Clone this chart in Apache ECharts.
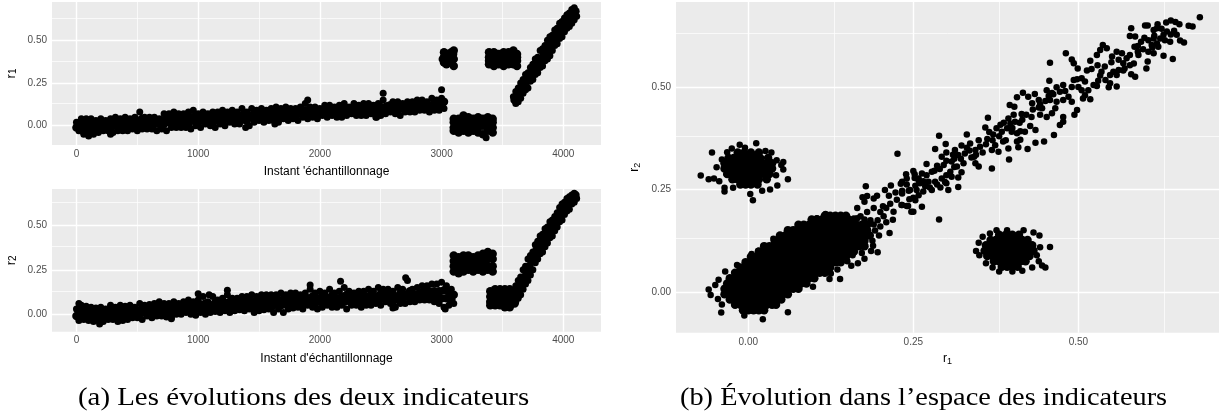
<!DOCTYPE html>
<html><head><meta charset="utf-8">
<style>html,body{margin:0;padding:0;background:#fff}#c{width:1219px;height:419px}</style>
<script src="https://cdn.jsdelivr.net/npm/echarts@6/dist/echarts.min.js"></script>
</head><body><div id="c"></div>
<script>
const xTicks=[0,1000,2000,3000,4000];
const xMinor=[500,1500,2500,3500];
const rTicks=[0,0.25,0.5];
const rMinor=[0.125,0.375,0.625];
const bandStep=40;
const r1Upper=[.02,.04,.04,.04,.03,.04,.03,.04,.05,.04,.05,.04,.05,.08,.05,.05,.05,.04,.07,.07,.08,.07,.07,.08,.09,.07,.08,.07,.08,.08,.09,.08,.09,.08,.10,.08,.10,.09,.10,.09,.10,.11,.10,.11,.10,.10,.11,.13,.11,.11,.10,.12,.12,.11,.12,.13,.11,.13,.12,.13,.13,.12,.13,.15,.12,.14,.14,.13,.14,.14,.15,.15,.14,.16,.15,.16];
const r1MidA=[.01,.02,.02,.02,.01,.02,.02,.02,.03,.03,.03,.03,.03,.04,.03,.03,.03,.03,.04,.04,.05,.05,.05,.05,.06,.05,.06,.05,.05,.06,.06,.06,.07,.06,.07,.06,.07,.07,.07,.07,.08,.08,.08,.08,.08,.08,.09,.09,.09,.09,.09,.10,.10,.09,.10,.10,.10,.11,.10,.11,.11,.10,.11,.11,.12,.12,.11,.12,.12,.12,.13,.13,.12,.13,.13,.14];
const r1MidB=[-.01,-.02,-.01,-.02,-.01,-.01,0,-.01,0,0,0,.01,0,.01,.01,0,.01,.01,.01,.02,.02,.02,.02,.01,.03,.02,.03,.03,.02,.03,.03,.04,.03,.04,.05,.03,.05,.05,.04,.05,.06,.05,.06,.06,.06,.06,.07,.06,.07,.07,.08,.07,.08,.08,.08,.08,.09,.08,.09,.08,.09,.08,.09,.09,.10,.09,.09,.10,.10,.10,.11,.11,.10,.11,.11,.12];
const r1Lower=[-.03,-.04,-.04,-.05,-.04,-.03,-.03,-.04,-.03,-.03,-.03,-.02,-.03,-.02,-.02,-.02,-.03,-.02,-.03,-.01,-.01,-.01,-.01,-.02,0,-.01,.01,0,-.01,.01,0,.02,.01,.01,.03,0,.02,.03,.02,.03,.03,.02,.04,.03,.04,.03,.05,.04,.05,.04,.06,.05,.06,.05,.05,.06,.07,.06,.06,.06,.07,.05,.06,.07,.08,.07,.06,.08,.08,.08,.09,.09,.08,.09,.09,.10];
const r1Outliers=[[60,-.05],[100,-.06],[280,-.05],[1390,-.01],[1630,.01],[2466,.05],[2520,.19],[3000,.21],[3366,-.07],[1900,.15]];
const r1BlockA=[[3020,.37],[3040,.36],[3060,.37],[3080,.37],[3100,.35],[3020,.40],[3040,.41],[3060,.39],[3080,.40],[3100,.39],[3020,.43],[3040,.42],[3060,.41],[3080,.43],[3100,.44],[3010,.39],[3095,.42]];
const r1BlockLowX=[3100,3140,3180,3220,3260,3300,3340,3380,3420];
const r1BlockLow=[[.04,.04,.06,.05,.04,.05,.04,.05,.04],[.02,.01,.02,.02,.01,.02,.02,.01,.02],[-.01,-.01,0,-.01,-.01,-.01,0,-.01,-.01],[-.03,-.04,-.03,-.04,-.03,-.04,-.05,-.03,-.04]];
const r1BlockHighX=[3390,3430,3470,3510,3550,3590,3620];
const r1BlockHigh=[[.43,.43,.42,.43,.43,.44,.42],[.40,.40,.41,.39,.40,.41,.40],[.38,.37,.38,.37,.38,.37,.38],[.36,.35,.36,.35,.36,.36,.35]];
const rampStep=20;
const r1RampUp=[.17,.20,.22,.25,.27,.30,.31,.34,.36,.39,.40,.44,.45,.47,.50,.52,.53,.56,.57,.60,.61,.63,.65,.66,.68,.69];
const r1RampMid=[.15,.17,.19,.22,.24,.26,.29,.30,.33,.35,.37,.39,.42,.43,.46,.48,.50,.52,.54,.56,.58,.60,.61,.63,.65,.67];
const r1RampLow=[.13,.14,.16,.19,.21,.22,.26,.27,.30,.31,.34,.35,.38,.39,.41,.44,.47,.48,.51,.52,.55,.57,.58,.60,.62,.64];

const r2Upper=[.03,.05,.045,.04,.035,.04,.03,.05,.04,.05,.045,.05,.04,.06,.05,.055,.06,.07,.06,.06,.07,.06,.07,.08,.07,.08,.10,.07,.10,.08,.09,.11,.09,.09,.10,.10,.11,.10,.11,.11,.11,.11,.12,.11,.12,.12,.11,.12,.14,.12,.13,.12,.14,.12,.13,.15,.13,.12,.13,.13,.14,.13,.15,.14,.14,.13,.15,.14,.19,.14,.15,.16,.16,.17,.17,.18,.16,.14];
const r2MidA=[.015,.025,.02,.02,.015,.02,.015,.03,.02,.03,.02,.03,.02,.035,.03,.03,.035,.04,.035,.035,.045,.04,.05,.05,.045,.055,.06,.05,.065,.055,.065,.07,.065,.065,.07,.075,.07,.07,.08,.08,.075,.08,.085,.08,.09,.09,.08,.09,.10,.09,.10,.09,.105,.09,.10,.11,.10,.095,.10,.10,.11,.10,.115,.11,.11,.10,.115,.11,.13,.11,.12,.13,.13,.13,.13,.135,.125,.11];
const r2MidB=[-.01,-.005,-.01,-.015,-.01,-.015,-.01,-.005,-.01,-.005,-.005,.005,0,.005,.01,.005,.01,.015,.01,.005,.02,.02,.03,.025,.02,.035,.03,.03,.04,.035,.04,.04,.045,.045,.045,.055,.04,.045,.05,.055,.04,.055,.05,.055,.06,.065,.055,.07,.07,.06,.07,.07,.07,.065,.075,.07,.075,.07,.07,.075,.08,.08,.08,.09,.085,.07,.085,.085,.10,.09,.10,.105,.105,.10,.095,.09,.09,.085];
const r2Lower=[-.035,-.03,-.035,-.04,-.035,-.04,-.03,-.03,-.04,-.035,-.03,-.02,-.02,-.03,-.01,-.02,-.01,-.01,-.015,-.02,0,.0,.01,0,-.005,.01,0,.01,.015,.01,.02,.01,.02,.025,.02,.03,.01,.02,.025,.03,.01,.03,.01,.03,.035,.04,.03,.05,.04,.03,.04,.05,.04,.04,.05,.03,.05,.05,.04,.05,.05,.06,.05,.07,.06,.04,.06,.06,.07,.07,.08,.08,.08,.07,.06,.04,.05,.06];
const r2Outliers=[[190,-.055],[20,.06],[780,-.025],[1000,.115],[1090,.11],[1240,.135],[1920,.165],[2170,.185],[2600,.035],[2705,.205],[3030,.03]];
const r2BlockTopX=[3100,3140,3180,3220,3260,3300,3340,3380,3420];
const r2BlockTop=[[.33,.32,.33,.33,.32,.33,.34,.35,.34],[.30,.30,.31,.30,.30,.31,.30,.31,.31],[.27,.27,.27,.27,.28,.27,.28,.27,.27],[.24,.23,.24,.25,.24,.25,.24,.25,.24]];
const r2BlockLowX=[3400,3440,3480,3520,3560,3600];
const r2BlockLow=[[.13,.14,.14,.14,.14,.13],[.10,.10,.11,.10,.11,.11],[.07,.08,.07,.08,.07,.09],[.05,.05,.05,.04,.04,.06]];
const r2RampUp=[.13,.16,.19,.21,.25,.27,.31,.33,.35,.39,.41,.44,.45,.48,.49,.52,.53,.55,.57,.60,.62,.63,.65,.66,.67,.68];
const r2RampMid=[.10,.13,.15,.18,.21,.24,.27,.30,.33,.36,.38,.40,.42,.44,.46,.48,.50,.52,.55,.57,.59,.61,.62,.64,.65,.67];
const r2RampLow=[.07,.09,.11,.14,.17,.19,.22,.25,.29,.31,.34,.35,.38,.40,.43,.44,.47,.49,.52,.53,.56,.58,.59,.62,.63,.65];

const clusterRows=[
[.186,[.116,.124,.132,.14,.148]],
[.177,[.096,.104,.112,.12,.128,.136,.144,.152,.16]],
[.164,[.076,.084,.092,.1,.108,.116,.124,.132,.14,.148,.156,.164,.172,.18]],
[.151,[.06,.068,.076,.084,.092,.1,.108,.116,.124,.132,.14,.148,.156,.164,.172,.18]],
[.138,[.048,.056,.064,.072,.08,.088,.096,.104,.112,.12,.128,.136,.144,.152,.16,.168,.176,.184]],
[.125,[.04,.048,.056,.064,.072,.08,.088,.096,.104,.112,.12,.128,.136,.144,.152,.16,.168,.176]],
[.112,[.024,.032,.04,.048,.056,.064,.072,.08,.088,.096,.104,.112,.12,.128,.136,.144,.152,.16,.168,.176]],
[.099,[.016,.024,.032,.04,.048,.056,.064,.072,.08,.088,.096,.104,.112,.12,.128,.136,.144,.152,.16]],
[.086,[.004,.012,.02,.028,.036,.044,.052,.06,.068,.076,.084,.092,.1,.108,.116,.124,.132,.14,.148]],
[.073,[-.004,.004,.012,.02,.028,.036,.044,.052,.06,.068,.076,.084,.092,.1,.108,.116,.124,.132,.14]],
[.06,[-.012,-.004,.004,.012,.02,.028,.036,.044,.052,.06,.068,.076,.084,.092,.1,.108,.116,.124]],
[.047,[-.02,-.012,-.004,.004,.012,.02,.028,.036,.044,.052,.06,.068,.076,.084,.092,.1,.108,.116]],
[.034,[-.028,-.02,-.012,-.004,.004,.012,.02,.028,.036,.044,.052,.06,.068,.076,.084,.092,.1]],
[.021,[-.032,-.024,-.016,-.008,0,.008,.016,.024,.032,.04,.048,.056,.064,.072,.08,.088]],
[.008,[-.036,-.028,-.02,-.012,-.004,.004,.012,.02,.028,.036,.044,.052,.06,.068,.076]],
[-.005,[-.036,-.028,-.02,-.012,-.004,.004,.012,.02,.028,.036,.044,.052,.06]],
[-.018,[-.028,-.02,-.012,-.004,.004,.012,.02,.028,.036,.044,.05]],
[-.031,[-.02,-.012,-.004,.004,.012,.02,.028,.036,.042]],
[-.044,[-.008,0,.008,.016,.024]]];
const clusterFringe=[[-.06,.006],[-.057,-.007],[-.05,.017],[-.045,.03],[-.046,-.017],[-.04,-.03],[-.041,-.05],[-.006,-.057],[.022,-.066],[.06,-.049],[-.035,.05],[-.017,.066],[.005,.093],[.015,.1],[.038,.13],[.051,.132],[.071,.152],[.081,.158],[.104,.18],[.117,.19],[.123,.032],[.139,.032],[.098,.013],[.156,.064],[.166,.07],[.176,.081],[.196,.097],[.189,.113],[.214,.144],[.209,.17],[.219,.176],[.204,.209],[.178,.258],[.226,.337],[.176,.22],[.173,.231],[.18,.234],[.195,.235],[.19,.228],[.207,.249],[.216,.26],[.231,.264],[.24,.277],[.252,.287],[.258,.277],[.213,.235],[.223,.243],[.233,.247],[.243,.247],[.253,.259],[.25,.23],[.247,.196],[.22,.196],[.232,.212],[.242,.21],[.209,.205],[.2,.195],[.19,.205],[.18,.195],[.165,.205],[.17,.185],[.185,.175],[.2,.16],[.205,.185],[.192,.15],[.198,.138],[.188,.125],[.186,.1],[.172,.095],[.158,.09],[.19,.165],[.196,.175],[.176,.177],[.165,.18],[.15,.075],[.135,.055],[.125,.045]];
const bandPoints=[[.684,.670],[.673,.647],[.667,.649],[.660,.608],[.654,.613],[.653,.653],[.647,.658],[.640,.662],[.633,.657],[.620,.653],[.619,.643],[.605,.650],[.601,.650],[.580,.643],[.578,.624],[.586,.623],[.595,.610],[.614,.639],[.634,.635],[.645,.637],[.649,.627],[.629,.627],[.624,.618],[.614,.618],[.606,.614],[.619,.606],[.611,.602],[.639,.610],[.631,.614],[.621,.598],[.606,.586],[.614,.582],[.629,.576],[.643,.568],[.585,.598],[.590,.586],[.603,.545],[.605,.562],[.586,.525],[.580,.531],[.578,.553],[.584,.557],[.591,.578],[.573,.570],[.566,.582],[.558,.586],[.551,.574],[.561,.566],[.568,.558],[.578,.578],[.537,.602],[.543,.594],[.533,.590],[.528,.578],[.481,.582],[.457,.559],[.490,.567],[.493,.558],[.499,.545],[.518,.564],[.529,.553],[.520,.544],[.513,.540],[.535,.537],[.553,.537],[.561,.541],[.548,.529],[.558,.529],[.541,.517],[.548,.509],[.546,.499],[.558,.501],[.505,.521],[.493,.517],[.498,.519],[.510,.513],[.523,.505],[.528,.502],[.515,.492],[.505,.492],[.510,.480],[.518,.470],[.507,.472],[.456,.515],[.477,.505],[.467,.499],[.452,.492],[.472,.488],[.485,.476],[.477,.468],[.490,.464],[.467,.464],[.457,.468],[.450,.466],[.440,.468],[.434,.483],[.424,.476],[.416,.486],[.407,.475],[.498,.444],[.494,.432],[.465,.448],[.460,.436],[.452,.427],[.442,.432],[.445,.448],[.431,.445],[.421,.432],[.429,.427],[.414,.434],[.477,.427],[.472,.407],[.477,.415],[.463,.383],[.448,.367],[.435,.364],[.423,.349],[.409,.353],[.394,.350],[.395,.323],[.396,.456],[.403,.452],[.363,.425],[.359,.401],[.402,.432],[.394,.423],[.387,.413],[.397,.411],[.404,.415],[.411,.413],[.376,.399],[.384,.391],[.392,.399],[.399,.391],[.407,.387],[.419,.391],[.427,.405],[.435,.395],[.412,.371],[.407,.367],[.386,.367],[.362,.373],[.289,.381],[.299,.361],[.331,.384],[.283,.349],[.349,.370],[.336,.362],[.323,.357],[.313,.346],[.351,.354],[.344,.346],[.328,.338],[.318,.334],[.374,.358],[.369,.346],[.379,.342],[.293,.330],[.308,.318],[.326,.314],[.344,.314],[.349,.306],[.369,.301],[.316,.306],[.296,.310],[.286,.308],[.270,.312],[.278,.293],[.250,.295],[.263,.289],[.239,.287],[.306,.293],[.323,.292],[.318,.279],[.308,.281],[.293,.277],[.283,.269],[.318,.256],[.303,.249],[.291,.255],[.273,.269],[.278,.249],[.260,.265],[.255,.249],[.265,.245],[.245,.249],[.233,.269],[.233,.240],[.253,.224],[.263,.208],[.240,.210],[.250,.196],[.289,.177],[.233,.212],[.300,.320],[.312,.325],[.338,.328],[.331,.352],[.342,.330],[.258,.272],[.268,.258],[.286,.262],[.298,.268],[.258,.236],[.244,.226],[.412,.392],[.382,.408],[.371,.384],[.442,.458],[.455,.478],[.462,.482],[.533,.528],[.568,.540],[.598,.592],[.612,.596],[.640,.628],[.626,.642],[.24,.262],[.252,.278],[.27,.285],[.282,.296],[.29,.3],[.3,.285],[.312,.305],[.3,.34],[.31,.335],[.322,.325],[.335,.345],[.345,.335],[.355,.34],[.36,.36],[.37,.37],[.38,.38],[.365,.39],[.39,.37],[.4,.4],[.415,.42],[.43,.46],[.44,.45],[.46,.485],[.48,.49],[.49,.5],[.5,.5],[.53,.515],[.54,.55],[.55,.56],[.57,.545],[.59,.6],[.6,.62],[.615,.625],[.265,.27],[.275,.255],[.3,.265],[.225,.225],[.215,.215]];
const blobUpperRows=[
[.34,[-.016,-.006,.004,.016]],
[.327,[-.03,-.022,-.014,-.006,.002,.01,.018,.03]],
[.314,[-.036,-.028,-.02,-.012,-.004,.004,.012,.02,.028,.036]],
[.301,[-.036,-.028,-.02,-.012,-.004,.004,.012,.02,.028,.036]],
[.288,[-.032,-.024,-.016,-.008,0,.008,.016,.024,.032]],
[.275,[-.024,-.016,-.008,0,.008,.016,.028]],
[.262,[-.012,-.004,.004,.014]]];
const blobUpperFringe=[[-.072,.284],[-.06,.275],[-.052,.277],[-.055,.34],[-.013,.359],[.012,.363],[.007,.224],[.06,.275],[.053,.299],[.053,.317],[.043,.321],[.026,.344],[.035,.34],[-.032,.341],[-.036,.245],[.021,.247],[.033,.25],[.003,.239],[-.023,.254],[.044,.26],[-.048,.304],[-.04,.323],[-.036,.254],[-.044,.27],[.042,.285],[.05,.31],[-.025,.35],[-.005,.352]];
const blobLowerRows=[
[.14,[.38,.39,.4,.41]],
[.127,[.367,.375,.383,.391,.399,.407,.415,.423]],
[.114,[.36,.368,.376,.384,.392,.4,.408,.416,.424,.43]],
[.101,[.358,.366,.374,.382,.39,.398,.406,.414,.422,.432]],
[.088,[.362,.37,.378,.386,.394,.402,.41,.418,.426]],
[.075,[.372,.38,.388,.396,.404,.412,.42]],
[.062,[.384,.392,.4,.408]]];
const blobLowerFringe=[[.349,.12],[.366,.143],[.376,.151],[.392,.151],[.417,.151],[.441,.138],[.457,.11],[.442,.109],[.36,.07],[.44,.075],[.445,.065],[.45,.06],[.38,.05],[.4,.05],[.415,.052],[.37,.06],[.35,.09],[.345,.10],[.43,.06],[.355,.135],[.432,.145],[.437,.09]];

const row=(v,off,start,step)=>v.map((y,i)=>[start+off+i*step,y]);
const grid2=(xs,rows)=>rows.flatMap(r=>r.map((y,i)=>[xs[i],y]));
const rows2=(rows)=>rows.flatMap(([y,xs])=>xs.map(x=>[x,y]));

const edge1=[].concat(row(r1Upper,0,0,bandStep),row(r1Lower,20,0,bandStep),r1Outliers,row(r1RampUp,-10,3600,rampStep),row(r1RampLow,10,3600,rampStep));
const core1=[].concat(row(r1MidA,20,0,bandStep),row(r1MidB,0,0,bandStep),r1BlockA,grid2(r1BlockLowX,r1BlockLow),grid2(r1BlockHighX,r1BlockHigh),row(r1RampMid,0,3600,rampStep));
const edge2=[].concat(row(r2Upper,0,0,bandStep),row(r2Lower,20,0,bandStep),r2Outliers,row(r2RampUp,-10,3600,rampStep),row(r2RampLow,10,3600,rampStep));
const core2=[].concat(row(r2MidA,20,0,bandStep),row(r2MidB,0,0,bandStep),grid2(r2BlockTopX,r2BlockTop),grid2(r2BlockLowX,r2BlockLow),row(r2RampMid,0,3600,rampStep));
const edge3=[].concat(clusterFringe,bandPoints,blobUpperFringe,blobLowerFringe);
const core3=[].concat(rows2(clusterRows),rows2(blobUpperRows),rows2(blobLowerRows));

const grey='#4D4D4D', sans='"Liberation Sans"';
const lines=(xMaj,xMin,yMaj,yMin)=>({silent:true,symbol:'none',animation:false,label:{show:false},
  data:[...xMin.map(v=>({xAxis:v,lineStyle:{color:'#fff',width:.7,type:'solid'}})),
        ...yMin.map(v=>({yAxis:v,lineStyle:{color:'#fff',width:.7,type:'solid'}})),
        ...xMaj.map(v=>({xAxis:v,lineStyle:{color:'#fff',width:1.4,type:'solid'}})),
        ...yMaj.map(v=>({yAxis:v,lineStyle:{color:'#fff',width:1.4,type:'solid'}}))]});
const axis=(type,o)=>Object.assign({type:'value',axisLine:{show:false},splitLine:{show:false},
  axisTick:{show:true,length:3.5,customValues:o.ticks,lineStyle:{color:'#333',width:1}},
  axisLabel:{customValues:o.ticks,color:grey,fontFamily:sans,fontSize:o.fs||10,margin:o.margin,formatter:o.fmt},
  nameLocation:'middle',nameGap:o.gap,name:o.name,nameTextStyle:o.nts,gridIndex:o.g,min:o.min,max:o.max});
const rsub=n=>({name:`{a|r}{b|${n}}`});
const subStyle=(fs)=>({rich:{a:{fontFamily:sans,fontSize:fs,color:'#000',verticalAlign:'top',lineHeight:13},b:{fontFamily:sans,fontSize:fs-3,color:'#000',verticalAlign:'bottom',lineHeight:13}}});
const fmtX=v=>String(Math.round(v)), fmtY=v=>v.toFixed(2);
const dots=(i,data,size,extra)=>Object.assign({type:'scatter',xAxisIndex:i,yAxisIndex:i,data,symbolSize:size,z:10,silent:true,itemStyle:{color:'#000',opacity:1}},extra||{});

const option={animation:false,backgroundColor:'#fff',
 grid:[{left:52,top:2,width:549,height:143,show:true,backgroundColor:'#EBEBEB',borderWidth:0},
       {left:52,top:189,width:549,height:142.7,show:true,backgroundColor:'#EBEBEB',borderWidth:0},
       {left:676,top:2,width:543,height:330.7,show:true,backgroundColor:'#EBEBEB',borderWidth:0}],
 xAxis:[
  axis('x',{g:0,min:-201,max:4310,ticks:xTicks,fmt:fmtX,margin:4,gap:21,name:"Instant 'échantillonnage",nts:{fontFamily:sans,fontSize:12,color:'#000'}}),
  axis('x',{g:1,min:-201,max:4310,ticks:xTicks,fmt:fmtX,margin:4,gap:20.5,name:"Instant d'échantillonnage",nts:{fontFamily:sans,fontSize:12,color:'#000'}}),
  Object.assign(axis('x',{g:2,min:-.1095,max:.713,ticks:rTicks,fmt:fmtY,margin:5,gap:17,name:'r1',nts:subStyle(12)}),rsub(1))],
 yAxis:[
  Object.assign(axis('y',{g:0,min:-.113,max:.724,ticks:rTicks,fmt:fmtY,margin:5,gap:34,name:'r1',nts:subStyle(13)}),rsub(1)),
  Object.assign(axis('y',{g:1,min:-.098,max:.704,ticks:rTicks,fmt:fmtY,margin:5,gap:34,name:'r2',nts:subStyle(13)}),rsub(2)),
  Object.assign(axis('y',{g:2,min:-.099,max:.707,ticks:rTicks,fmt:fmtY,margin:5,gap:34,name:'r2',nts:subStyle(12)}),rsub(2))],
 series:[
  dots(0,edge1,7,{markLine:lines(xTicks,xMinor,rTicks,rMinor)}),
  dots(0,core1,8.5),
  dots(1,edge2,7,{markLine:lines(xTicks,xMinor,rTicks,rMinor)}),
  dots(1,core2,8.5),
  dots(2,edge3,6.5,{markLine:lines(rTicks,rMinor,rTicks,rMinor)}),
  dots(2,core3,8.5)],
 graphic:[
  {type:'text',x:78,y:385,scaleX:1.11,style:{text:'(a) Les évolutions des deux indicateurs',font:'26px "Liberation Serif"',fill:'#000'}},
  {type:'text',x:680,y:385,scaleX:1.09,style:{text:"(b) Évolution dans l’espace des indicateurs",font:'26px "Liberation Serif"',fill:'#000'}}]};
const chart=echarts.init(document.getElementById('c'),null,{renderer:'canvas'});
chart.setOption(option);
</script></body></html>
